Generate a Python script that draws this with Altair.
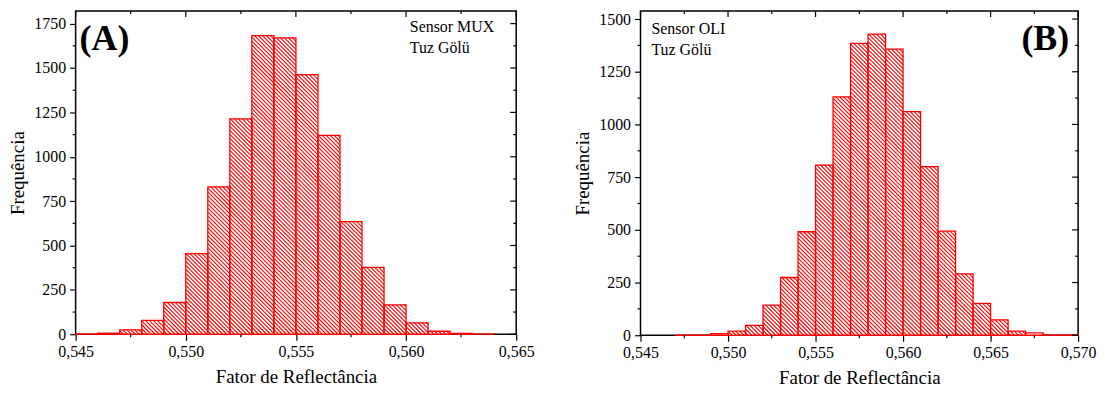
import altair as alt
import pandas as pd
import numpy as np

FONT = "Liberation Serif"
RED = "#ff0000"
BIN = 0.001

# ---------------- data ----------------
a_bin_lo = [0.545, 0.546, 0.547, 0.548, 0.549, 0.550, 0.551, 0.552, 0.553, 0.554,
            0.555, 0.556, 0.557, 0.558, 0.559, 0.560, 0.561, 0.562, 0.563]
a_counts = [1, 6, 25, 78, 179, 454, 830, 1213, 1682, 1670,
            1463, 1121, 635, 377, 166, 64, 17, 5, 1]

b_bin_lo = [0.547, 0.548, 0.549, 0.550, 0.551, 0.552, 0.553, 0.554, 0.555, 0.556,
            0.557, 0.558, 0.559, 0.560, 0.561, 0.562, 0.563, 0.564, 0.565, 0.566,
            0.567, 0.568, 0.569]
b_counts = [1, 1, 8, 20, 47, 143, 274, 491, 807, 1131,
            1385, 1428, 1357, 1061, 800, 494, 291, 151, 73, 20,
            11, 1, 1]

a_x_major = [0.545, 0.550, 0.555, 0.560, 0.565]
a_x_minor = [0.5475, 0.5525, 0.5575, 0.5625]
a_y_major = [0, 250, 500, 750, 1000, 1250, 1500, 1750]
a_y_minor = [125, 375, 625, 875, 1125, 1375, 1625]

b_x_major = [0.545, 0.550, 0.555, 0.560, 0.565, 0.570]
b_x_minor = [0.5475, 0.5525, 0.5575, 0.5625, 0.5675]
b_y_major = [0, 250, 500, 750, 1000, 1250, 1500]
b_y_minor = [125, 375, 625, 875, 1125, 1375]

a_tag = "(A)"
b_tag = "(B)"
a_note = ["Sensor MUX", "Tuz Gölü"]
b_note = ["Sensor OLI", "Tuz Gölü"]
x_title = "Fator de Reflectância"
y_title = "Frequência"


def hatch_table(lo_list, counts, x0, px_x, px_y, step=4.0):
    rows = []
    for lo, c in zip(lo_list, counts):
        xa = (lo - x0) * px_x
        xb = (lo + BIN - x0) * px_x
        h = c * px_y
        if h < 2.5:
            continue
        k0 = int(np.floor(xa / step))
        k1 = int(np.ceil((xb + h) / step))
        for k in range(k0, k1 + 1):
            cg = k * step
            xs = max(xa, cg - h)
            xe = min(xb, cg)
            if xe - xs > 0.3:
                rows.append(dict(hx1=x0 + xs / px_x, hy1=(cg - xs) / px_y,
                                 hx2=x0 + xe / px_x, hy2=(cg - xe) / px_y))
    return pd.DataFrame(rows)


def text_layer(txt, x, y, size, weight, align):
    return alt.Chart(pd.DataFrame({"t": [txt]})).mark_text(
        font=FONT, fontSize=size, fontWeight=weight, align=align,
        baseline="alphabetic", color="black").encode(
        x=alt.value(x), y=alt.value(y), text="t:N")


AX = dict(labelFont=FONT, labelFontSize=16, labelColor="black",
          titleFont=FONT, titleFontSize=19, titleFontWeight="normal", titleColor="black",
          tickSize=6, tickWidth=1.2, tickColor="black", domain=False, grid=False,
          labelOverlap=False)


def panel(lo_list, counts, xdom, ydom, W, H, xmaj, xmin, ymaj, ymin,
          tag, tag_x, tag_align, note, note_x, note_y0):
    px_x = W / (xdom[1] - xdom[0])
    px_y = H / (ydom[1] - ydom[0])
    xs = alt.Scale(domain=xdom, nice=False, zero=False)
    ys = alt.Scale(domain=ydom, nice=False, zero=False)

    bars = pd.DataFrame({"lo": lo_list, "hi": [v + BIN for v in lo_list], "n": counts,
                         "z": [0] * len(counts)})
    hatch = hatch_table(lo_list, counts, xdom[0], px_x, px_y)

    xaxis = alt.Axis(values=xmaj, labelExpr="replace(format(datum.value, '.3f'), '.', ',')",
                     title=x_title, labelFlush=False, labelPadding=3, titlePadding=9, **AX)
    yaxis = alt.Axis(values=ymaj, format="d", title=y_title, labelPadding=4,
                     titlePadding=6, **AX)

    base_bars = alt.Chart(bars).mark_rect(fill="white").encode(
        x=alt.X("lo:Q", scale=xs, axis=xaxis), x2="hi:Q",
        y=alt.Y("n:Q", scale=ys, axis=yaxis), y2="z:Q")

    hatch_l = alt.Chart(hatch).mark_rule(color=RED, strokeWidth=1.1).encode(
        x=alt.X("hx1:Q", scale=xs), x2="hx2:Q",
        y=alt.Y("hy1:Q", scale=ys), y2="hy2:Q")

    outline = alt.Chart(bars).mark_rect(fillOpacity=0, stroke=RED, strokeWidth=1.3).encode(
        x=alt.X("lo:Q", scale=xs), x2="hi:Q",
        y=alt.Y("n:Q", scale=ys), y2="z:Q")

    tx_maj = pd.DataFrame({"v": xmaj})
    tx_min = pd.DataFrame({"v": xmin})
    ty_maj = pd.DataFrame({"v": ymaj})
    ty_min = pd.DataFrame({"v": ymin})

    tk = dict(color="black", strokeWidth=1.2)
    top_maj = alt.Chart(tx_maj).mark_rule(**tk).encode(
        x=alt.X("v:Q", scale=xs), y=alt.value(0), y2=alt.value(6))
    top_min = alt.Chart(tx_min).mark_rule(**tk).encode(
        x=alt.X("v:Q", scale=xs), y=alt.value(0), y2=alt.value(3))
    bot_min = alt.Chart(tx_min).mark_rule(**tk).encode(
        x=alt.X("v:Q", scale=xs), y=alt.value(H), y2=alt.value(H + 3))
    right_maj = alt.Chart(ty_maj).mark_rule(**tk).encode(
        y=alt.Y("v:Q", scale=ys), x=alt.value(W), x2=alt.value(W - 6))
    right_min = alt.Chart(ty_min).mark_rule(**tk).encode(
        y=alt.Y("v:Q", scale=ys), x=alt.value(W), x2=alt.value(W - 3))
    left_min = alt.Chart(ty_min).mark_rule(**tk).encode(
        y=alt.Y("v:Q", scale=ys), x=alt.value(0), x2=alt.value(-3))

    tag_t = text_layer(tag, tag_x, 39, 36, "bold", tag_align)
    note1 = text_layer(note[0], note_x, note_y0, 16, "normal", "left")
    note2 = text_layer(note[1], note_x, note_y0 + 21, 16, "normal", "left")

    return alt.layer(base_bars, hatch_l, outline, top_maj, top_min, bot_min,
                     right_maj, right_min, left_min, tag_t, note1, note2).properties(
        width=W, height=H)


WA, HA = 443, 325
WB, HB = 440, 326
pa = panel(a_bin_lo, a_counts, [0.545, 0.565], [0, 1821], WA, HA,
           a_x_major, a_x_minor, a_y_major, a_y_minor,
           a_tag, 4, "left", a_note, 336, 21)
pb = panel(b_bin_lo, b_counts, [0.545, 0.570], [0, 1538], WB, HB,
           b_x_major, b_x_minor, b_y_major, b_y_minor,
           b_tag, 431, "right", b_note, 11, 23)

chart = alt.hconcat(pa, pb, spacing=38).properties(
    padding={"left": 0, "top": 0, "right": 0, "bottom": 0},
    background="white"
).configure_view(stroke="black", strokeWidth=1.5)

chart.save("out.html", embed_options={"renderer": "svg", "actions": False})
